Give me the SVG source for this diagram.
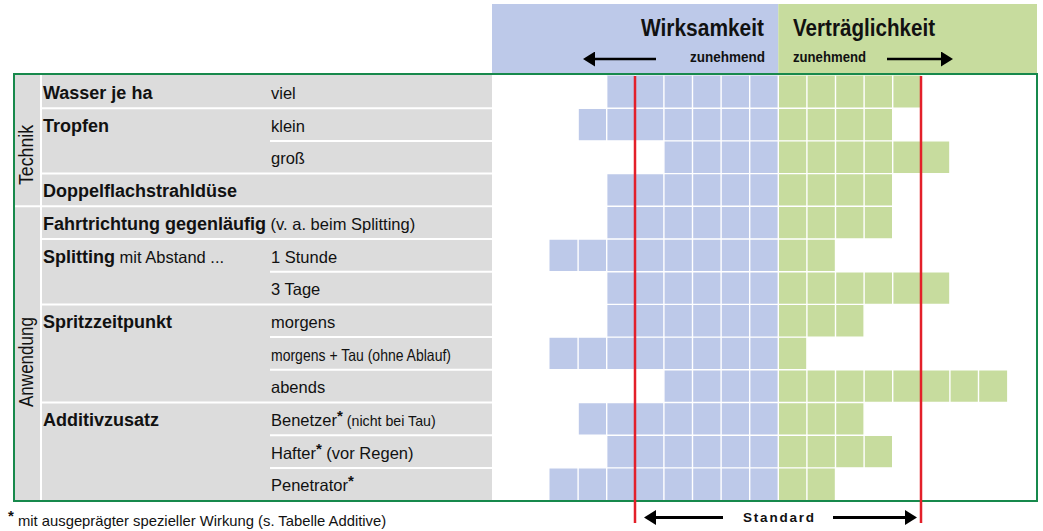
<svg xmlns="http://www.w3.org/2000/svg" width="1043" height="531" viewBox="0 0 1043 531">
<style>
text{font-family:"Liberation Sans",Arial,sans-serif;fill:#111}
.b{font-weight:bold;font-size:18px}
.r{font-size:16.5px}
.rot{font-size:21px}
.hd{font-weight:bold;font-size:23px}
.zu{font-weight:bold;font-size:14px}
.std{font-weight:bold;font-size:13.5px;letter-spacing:1.8px}
.sm{font-size:14.2px}
.st{font-size:15px;font-weight:bold}
.fn{font-size:14.8px}
.blue{fill:#bdc9e9}
.green{fill:#c7dc9e}
.gray{fill:#dcdcdc}
.sep{stroke:#fff;stroke-width:2}
.grid{stroke:#fff;stroke-width:1.4}
.red{stroke:#e3202a;stroke-width:2.5}
.arr{stroke:#000;stroke-width:2.6;fill:none}
</style>
<defs>
<marker id="ah" viewBox="0 0 12 15" refX="0" refY="7.5" markerWidth="12" markerHeight="15" markerUnits="userSpaceOnUse" orient="auto">
<path d="M0 0 L12 7.5 L0 15 Z" fill="#000"/>
</marker>
</defs>

<g id="header">
<rect class="blue" x="492" y="4" width="286.3" height="70"/>
<rect class="green" x="778.3" y="4" width="258.7" height="70"/>
<text class="hd" x="764" y="36" text-anchor="end" textLength="123" lengthAdjust="spacingAndGlyphs">Wirksamkeit</text>
<text class="hd" x="793" y="36" textLength="142" lengthAdjust="spacingAndGlyphs">Verträglichkeit</text>
<text class="zu" x="765" y="62" text-anchor="end" textLength="75" lengthAdjust="spacingAndGlyphs">zunehmend</text>
<text class="zu" x="793" y="62" textLength="73" lengthAdjust="spacingAndGlyphs">zunehmend</text>
</g>

<g id="left-table">
<rect class="gray" x="15" y="75" width="477" height="425.6"/>
<line class="sep" x1="41" y1="75" x2="41" y2="501"/>
<g id="separators">
<line class="sep" x1="42" y1="108.2" x2="492" y2="108.2"/>
<line class="sep" x1="270" y1="140.9" x2="492" y2="140.9"/>
<line class="sep" x1="42" y1="173.6" x2="492" y2="173.6"/>
<line class="sep" x1="15" y1="206.3" x2="492" y2="206.3"/>
<line class="sep" x1="42" y1="239" x2="492" y2="239"/>
<line class="sep" x1="270" y1="271.7" x2="492" y2="271.7"/>
<line class="sep" x1="42" y1="304.4" x2="492" y2="304.4"/>
<line class="sep" x1="270" y1="337.1" x2="492" y2="337.1"/>
<line class="sep" x1="270" y1="369.8" x2="492" y2="369.8"/>
<line class="sep" x1="42" y1="402.5" x2="492" y2="402.5"/>
<line class="sep" x1="270" y1="435.2" x2="492" y2="435.2"/>
<line class="sep" x1="270" y1="467.9" x2="492" y2="467.9"/>
</g>
<g id="group-technik"><text class="rot" transform="translate(33,155) rotate(-90)" text-anchor="middle" textLength="60" lengthAdjust="spacingAndGlyphs">Technik</text></g>
<g id="group-anwendung"><text class="rot" transform="translate(33,362) rotate(-90)" text-anchor="middle" textLength="90" lengthAdjust="spacingAndGlyphs">Anwendung</text></g>
</g>

<g id="bars">
<g id="row-viel"><text class="b" x="43" y="99">Wasser je ha</text><text class="r" x="271" y="99">viel</text>
<rect class="blue" x="606.7" y="75.5" width="171.6" height="32.7"/><rect class="green" x="778.3" y="75.5" width="143" height="32.7"/></g>
<g id="row-klein"><text class="b" x="43" y="131.7">Tropfen</text><text class="r" x="271" y="131.7">klein</text>
<rect class="blue" x="578.1" y="108.2" width="200.2" height="32.7"/><rect class="green" x="778.3" y="108.2" width="114.4" height="32.7"/></g>
<g id="row-gross"><text class="r" x="271" y="164.4">groß</text>
<rect class="blue" x="663.9" y="140.9" width="114.4" height="32.7"/><rect class="green" x="778.3" y="140.9" width="171.6" height="32.7"/></g>
<g id="row-doppel"><text class="b" x="43" y="197.1">Doppelflachstrahldüse</text>
<rect class="blue" x="606.7" y="173.6" width="171.6" height="32.7"/><rect class="green" x="778.3" y="173.6" width="114.4" height="32.7"/></g>
<g id="row-fahrt"><text x="43" y="229.8"><tspan class="b">Fahrtrichtung gegenläufig</tspan><tspan class="r"> (v. a. beim Splitting)</tspan></text>
<rect class="blue" x="606.7" y="206.3" width="171.6" height="32.7"/><rect class="green" x="778.3" y="206.3" width="114.4" height="32.7"/></g>
<g id="row-1stunde"><text x="43" y="262.5"><tspan class="b">Splitting</tspan><tspan class="r"> mit Abstand ...</tspan></text><text class="r" x="271" y="262.5">1 Stunde</text>
<rect class="blue" x="549.5" y="239" width="228.8" height="32.7"/><rect class="green" x="778.3" y="239" width="57.2" height="32.7"/></g>
<g id="row-3tage"><text class="r" x="271" y="295.2">3 Tage</text>
<rect class="blue" x="606.7" y="271.7" width="171.6" height="32.7"/><rect class="green" x="778.3" y="271.7" width="171.6" height="32.7"/></g>
<g id="row-morgens"><text class="b" x="43" y="327.9">Spritzzeitpunkt</text><text class="r" x="271" y="327.9">morgens</text>
<rect class="blue" x="606.7" y="304.4" width="171.6" height="32.7"/><rect class="green" x="778.3" y="304.4" width="85.8" height="32.7"/></g>
<g id="row-tau"><text class="r" x="271" y="360.6" textLength="180" lengthAdjust="spacingAndGlyphs">morgens + Tau (ohne Ablauf)</text>
<rect class="blue" x="549.5" y="337.1" width="228.8" height="32.7"/><rect class="green" x="778.3" y="337.1" width="28.6" height="32.7"/></g>
<g id="row-abends"><text class="r" x="271" y="393.3">abends</text>
<rect class="blue" x="663.9" y="369.8" width="114.4" height="32.7"/><rect class="green" x="778.3" y="369.8" width="228.8" height="32.7"/></g>
<g id="row-benetzer"><text class="b" x="43" y="426">Additivzusatz</text><text x="271" y="426"><tspan class="r">Benetzer</tspan><tspan class="st" dy="-5">*</tspan><tspan class="sm" dy="5"> (nicht bei Tau)</tspan></text>
<rect class="blue" x="578.1" y="402.5" width="200.2" height="32.7"/><rect class="green" x="778.3" y="402.5" width="85.8" height="32.7"/></g>
<g id="row-hafter"><text x="271" y="458.7"><tspan class="r">Hafter</tspan><tspan class="st" dy="-5">*</tspan><tspan class="r" dy="5"> (vor Regen)</tspan></text>
<rect class="blue" x="606.7" y="435.2" width="171.6" height="32.7"/><rect class="green" x="778.3" y="435.2" width="114.4" height="32.7"/></g>
<g id="row-penetrator"><text x="271" y="491.4"><tspan class="r">Penetrator</tspan><tspan class="st" dy="-5">*</tspan></text>
<rect class="blue" x="549.5" y="467.9" width="228.8" height="32.7"/><rect class="green" x="778.3" y="467.9" width="57.2" height="32.7"/></g>
</g>

<g id="grid">
<path class="grid" d="M578.1 75.5V500.6M606.7 75.5V500.6M635.3 75.5V500.6M663.9 75.5V500.6M692.5 75.5V500.6M721.1 75.5V500.6M749.7 75.5V500.6M778.3 75.5V500.6M806.9 75.5V500.6M835.5 75.5V500.6M864.1 75.5V500.6M892.7 75.5V500.6M921.3 75.5V500.6M949.9 75.5V500.6M978.5 75.5V500.6"/>
<path class="grid" d="M549 108.2H1008M549 140.9H1008M549 173.6H1008M549 206.3H1008M549 239H1008M549 271.7H1008M549 304.4H1008M549 337.1H1008M549 369.8H1008M549 402.5H1008M549 435.2H1008M549 467.9H1008"/>
</g>

<rect id="frame" x="14" y="74" width="1023" height="427" fill="none" stroke="#17894c" stroke-width="2"/>

<g id="standard-lines">
<line class="red" x1="635" y1="76" x2="635" y2="523"/>
<line class="red" x1="921" y1="76" x2="921" y2="523"/>
</g>

<g id="connectors">
<path class="arr" d="M656 59H595" marker-end="url(#ah)"/>
<path class="arr" d="M887 59H941" marker-end="url(#ah)"/>
<path class="arr" style="stroke-width:3" d="M723 517.5H656" marker-end="url(#ah)"/>
<path class="arr" style="stroke-width:3" d="M833 517.5H905" marker-end="url(#ah)"/>
</g>
<text class="std" x="743" y="522">Standard</text>

<g id="footnote">
<text x="8" y="526"><tspan class="st" dy="-5">*</tspan><tspan class="fn" dy="5"> mit ausgeprägter spezieller Wirkung (s. Tabelle Additive)</tspan></text>
</g>
</svg>
